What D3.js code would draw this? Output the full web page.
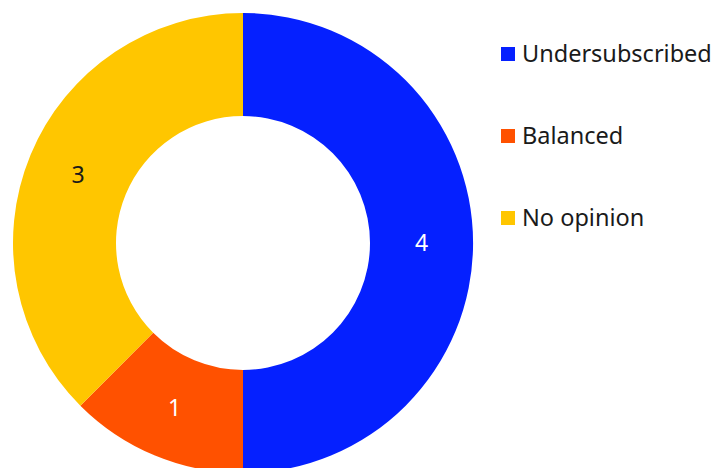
<!DOCTYPE html>
<html>
<head>
<meta charset="utf-8">
<script src="https://cdn.jsdelivr.net/npm/d3@7"></script>
<style>
  html, body { margin: 0; padding: 0; background: #fff; }
  svg { display: block; font-family: "Noto Sans", "Open Sans", sans-serif; }
</style>
</head>
<body>
<svg id="chart" width="712" height="468"></svg>
<script>
// Survey answers: how the market is seen
const categories = ["Undersubscribed", "Balanced", "No opinion"];
const counts = [4, 1, 3];
const colors = ["#0520FF", "#FF5100", "#FFC600"];
const labelColors = ["#ffffff", "#ffffff", "#1a1a1a"];

const svg = d3.select("#chart");
const cx = 243, cy = 243;
const outerR = 230, innerR = 127;

const data = categories.map((c, i) => ({ name: c, value: counts[i], color: colors[i], textColor: labelColors[i] }));

const pie = d3.pie().value(d => d.value).sort(null);
const arc = d3.arc().innerRadius(innerR).outerRadius(outerR);

const g = svg.append("g").attr("transform", `translate(${cx},${cy})`);
const arcs = pie(data);

g.selectAll("path.slice")
  .data(arcs)
  .join("path")
  .attr("class", "slice")
  .attr("d", arc)
  .attr("fill", d => d.data.color);

g.selectAll("text.value")
  .data(arcs)
  .join("text")
  .attr("class", "value")
  .attr("transform", d => `translate(${arc.centroid(d)})`)
  .attr("text-anchor", "middle")
  .attr("dy", "0.35em")
  .attr("font-size", 23)
  .attr("fill", d => d.data.textColor)
  .text(d => d.data.value);

// Legend
const legend = svg.append("g").attr("transform", "translate(501,47)");
const item = legend.selectAll("g.item")
  .data(data)
  .join("g")
  .attr("class", "item")
  .attr("transform", (d, i) => `translate(0,${i * 82})`);

item.append("rect")
  .attr("width", 14)
  .attr("height", 14)
  .attr("fill", d => d.color);

item.append("text")
  .attr("x", 21)
  .attr("y", 15)
  .attr("font-size", 23.5)
  .attr("fill", "#1a1a1a")
  .text(d => d.name);
</script>
</body>
</html>
